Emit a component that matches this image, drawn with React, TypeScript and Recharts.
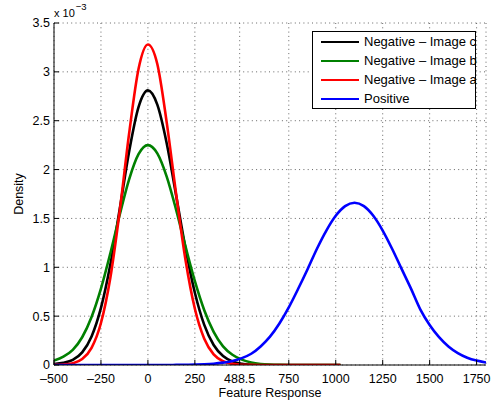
import React from 'react';
import { LineChart, Line, XAxis, YAxis, CartesianGrid, Legend } from 'recharts';

const FONT = '"Liberation Sans", Arial, Helvetica, sans-serif';

// x positions (Feature Response) of the negative-class density estimates
const negX = [
  -500, -450, -400, -350, -300, -250, -200, -150, -100, -50, 0, 50, 100, 150, 200, 250,
  300, 350, 400, 450, 500, 550, 600, 650, 700, 750, 800, 850, 900, 950, 1000, 1025,
];

// density values in units of 1e-3
const negImageC = [
  0.01, 0.022, 0.052, 0.129, 0.292, 0.584, 1.028, 1.596, 2.185, 2.639, 2.81, 2.664, 2.27, 1.738, 1.196, 0.74,
  0.411, 0.205, 0.092, 0.037, 0.013, 0.004, 0.001, 0, 0, 0, 0, 0, 0, 0, 0, 0,
];
const negImageB = [
  0.045, 0.085, 0.155, 0.284, 0.492, 0.782, 1.144, 1.538, 1.9, 2.157, 2.25, 2.165, 1.928, 1.59, 1.214, 0.858,
  0.561, 0.34, 0.191, 0.105, 0.055, 0.026, 0.011, 0.004, 0.001, 0, 0, 0, 0, 0, 0, 0,
];
const negImageA = [
  0.001, 0.005, 0.018, 0.061, 0.176, 0.43, 0.893, 1.578, 2.369, 3.03, 3.28, 3.08, 2.483, 1.753, 1.077, 0.575,
  0.268, 0.108, 0.038, 0.012, 0.003, 0.001, 0, 0, 0, 0, 0, 0, 0, 0, 0, 0,
];

const posX = [
  -500, -450, -400, -350, -300, -250, -200, -150, -100, -50, 0, 50, 100, 150, 200, 250,
  300, 350, 400, 450, 500, 550, 600, 650, 700, 750, 800, 850, 900, 950, 1000, 1050,
  1100, 1150, 1200, 1250, 1300, 1350, 1400, 1450, 1500, 1550, 1600, 1650, 1700, 1750, 1800,
];
const positive = [
  0, 0, 0, 0, 0, 0, 0, 0, 0, 0, 0, 0, 0, 0.001, 0.002, 0.004,
  0.007, 0.013, 0.024, 0.04, 0.07, 0.115, 0.19, 0.29, 0.425, 0.59, 0.78, 0.98, 1.19, 1.376, 1.527, 1.626,
  1.66, 1.626, 1.527, 1.376, 1.19, 0.986, 0.784, 0.57, 0.41, 0.285, 0.19, 0.122, 0.075, 0.045, 0.025,
];

const xTicks = [-500, -250, 0, 250, 488.5, 750, 1000, 1250, 1500, 1750];
const yTicks = [0, 0.5, 1, 1.5, 2, 2.5, 3, 3.5];

const seriesNames = ['Negative \u2013 Image c', 'Negative \u2013 Image b', 'Negative \u2013 Image a', 'Positive'];
const seriesColors = ['#000000', '#008000', '#ff0000', '#0000ff'];

const toPoints = (xs: number[], ys: number[]) => xs.map((x, i) => ({ x, y: ys[i] }));

const series = [
  { name: seriesNames[0], color: seriesColors[0], data: toPoints(negX, negImageC) },
  { name: seriesNames[1], color: seriesColors[1], data: toPoints(negX, negImageB) },
  { name: seriesNames[2], color: seriesColors[2], data: toPoints(negX, negImageA) },
  { name: seriesNames[3], color: seriesColors[3], data: toPoints(posX, positive) },
];

const fmtX = (v: number) => (v < 0 ? '\u2013' + Math.abs(v) : String(v));

const renderLegend = () => (
  <div style={{ position: 'relative', width: 164, height: 78, background: '#fff', fontFamily: FONT }}>
    {series.map((s, i) => (
      <div
        key={s.name}
        style={{
          position: 'absolute',
          left: 9,
          top: 2.3 + i * 18.8,
          height: 18,
          display: 'flex',
          alignItems: 'center',
          whiteSpace: 'nowrap',
        }}
      >
        <span style={{ display: 'inline-block', width: 38, height: 0, borderTop: `2.5px solid ${s.color}`, marginRight: 5 }} />
        <span style={{ fontSize: 13, color: '#000', lineHeight: '18px' }}>{s.name}</span>
      </div>
    ))}
    <div style={{ position: 'absolute', left: 0, top: 0, right: 0, bottom: 0, border: '1px solid #000', pointerEvents: 'none' }} />
  </div>
);

export default function App() {
  return (
    <div style={{ position: 'absolute', left: 0, top: 0, width: 494, height: 403, background: '#fff', fontFamily: FONT }}>
      <LineChart width={494} height={403} margin={{ top: 23, right: 8, bottom: 0, left: 0 }}>
        <CartesianGrid stroke="#666" strokeDasharray="1 3.3" strokeWidth={1} />
        <XAxis
          type="number"
          dataKey="x"
          domain={[-500, 1800]}
          ticks={xTicks}
          interval={0}
          allowDataOverflow
          height={38}
          tickSize={-5}
          tickMargin={14}
          tickFormatter={fmtX}
          stroke="#000"
          tick={{ fill: '#000', fontSize: 12.5 }}
          label={{ value: 'Feature Response', position: 'insideBottom', offset: 6, fill: '#000', fontSize: 12.5 }}
        />
        <XAxis
          xAxisId="top"
          orientation="top"
          type="number"
          dataKey="x"
          domain={[-500, 1800]}
          ticks={xTicks}
          interval={0}
          allowDataOverflow
          height={0}
          tickSize={-5}
          tick={false}
          stroke="#000"
        />
        <YAxis
          type="number"
          domain={[0, 3.5]}
          ticks={yTicks}
          interval={0}
          allowDataOverflow
          width={54}
          tickSize={-5}
          tickMargin={9}
          stroke="#000"
          tick={{ fill: '#000', fontSize: 12.5 }}
          label={{
            content: () => (
              <text x={0} y={0} transform="translate(22.5,194) rotate(-90)" textAnchor="middle" fill="#000" fontSize={12.5}>
                Density
              </text>
            ),
          }}
        />
        <YAxis
          yAxisId="right"
          orientation="right"
          type="number"
          domain={[0, 3.5]}
          ticks={yTicks}
          interval={0}
          allowDataOverflow
          width={0}
          tickSize={-5}
          tick={false}
          stroke="#000"
        />
        {series.map((s) => (
          <Line
            key={s.name}
            data={s.data}
            dataKey="y"
            name={s.name}
            type="monotone"
            stroke={s.color}
            strokeWidth={2.6}
            dot={false}
            activeDot={false}
            isAnimationActive={false}
          />
        ))}
        <Legend
          layout="horizontal"
          verticalAlign="middle"
          align="center"
          content={renderLegend}
          wrapperStyle={{ position: 'absolute', left: 312, top: 31, width: 164, height: 78 }}
        />
      </LineChart>
      <svg width={120} height={24} style={{ position: 'absolute', left: 0, top: 0, pointerEvents: 'none' }}>
        <text x={54} y={17.3} fontSize={11} fill="#000" fontFamily={FONT}>
          x 10
          <tspan dx={1} dy={-7.5} fontSize={9.5}>
            {'\u2212'}3
          </tspan>
        </text>
      </svg>
    </div>
  );
}
